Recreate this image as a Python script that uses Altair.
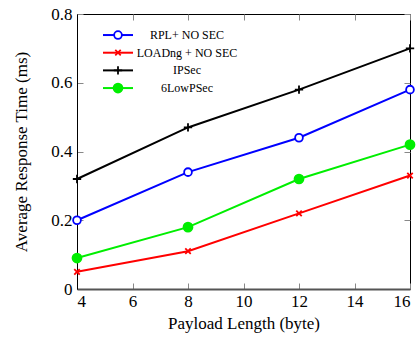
import altair as alt
import pandas as pd

payload = [4, 8, 12, 16]
rpl = [0.20, 0.34, 0.44, 0.58]
loadng = [0.05, 0.11, 0.22, 0.33]
ipsec = [0.32, 0.47, 0.58, 0.70]
lowpsec = [0.09, 0.18, 0.32, 0.42]

series_names = ["RPL+ NO SEC", "LOADng + NO SEC", "IPSec", "6LowPSec"]
series_colors = ["#0000ff", "#ff0000", "#000000", "#00ee00"]
series_fill = ["#ffffff", "transparent", "transparent", "#00ee00"]

x_ticks = [4, 6, 8, 10, 12, 14, 16]
y_ticks = [0, 0.2, 0.4, 0.6, 0.8]

rows = []
for name, vals in zip(series_names, [rpl, loadng, ipsec, lowpsec]):
    for x, v in zip(payload, vals):
        rows.append({"payload": x, "time": v, "series": name})
df = pd.DataFrame(rows)
legend_df = pd.DataFrame({"series": series_names})

W, H = 333, 275
TICK = 6
FONT = "Liberation Serif"

xscale = alt.Scale(domain=[4, 16], nice=False, zero=False)
yscale = alt.Scale(domain=[0, 0.8], nice=False)

# inward ticks on all four sides: grid lines dashed so only both ends show
x_enc = alt.X("payload:Q", scale=xscale,
              axis=alt.Axis(values=x_ticks, title="Payload Length (byte)", ticks=False,
                            domain=True, domainColor="#555555", domainWidth=2,
                            labelFont=FONT, titleFont=FONT, labelFontSize=17, titleFontSize=17,
                            labelPadding=4, titlePadding=6,
                            grid=True, gridColor="#888888", gridWidth=1, gridOpacity=1,
                            gridDash=[TICK, H - 2 * TICK, TICK]))
y_enc = alt.Y("time:Q", scale=yscale,
              axis=alt.Axis(values=y_ticks, title="Average Response Time (ms)", ticks=False,
                            domain=True, domainColor="#000000", domainWidth=1,
                            labelFont=FONT, titleFont=FONT, labelFontSize=17, titleFontSize=17,
                            format="~g", labelPadding=5, titlePadding=20,
                            grid=True, gridColor="#888888", gridWidth=1, gridOpacity=1,
                            gridDash=[TICK, W - 2 * TICK, TICK]))
x_plain = alt.X("payload:Q", scale=xscale)
y_plain = alt.Y("time:Q", scale=yscale)

stroke_scale = alt.Scale(domain=series_names, range=series_colors)
fill_scale = alt.Scale(domain=series_names, range=series_fill)
stroke_enc = alt.Stroke("series:N", scale=stroke_scale, legend=None)
fill_enc = alt.Fill("series:N", scale=fill_scale, legend=None)

lines = alt.Chart(df).mark_line(strokeWidth=2).encode(x=x_enc, y=y_enc, stroke=stroke_enc)

marker_styles = [
    ("circle", 60),
    ("M-1,-1L1,1M-1,1L1,-1", 30),
    ("M-1,0L1,0M0,-1L0,1", 70),
    ("circle", 80),
]


def marker_layers(data, x, y):
    out = []
    for name, (shape, size) in zip(series_names, marker_styles):
        out.append(
            alt.Chart(data).transform_filter(alt.datum.series == name)
            .mark_point(filled=False, strokeWidth=1.8, opacity=1, shape=shape, size=size)
            .encode(x=x, y=y, stroke=stroke_enc, fill=fill_enc)
        )
    return out


data_group = alt.layer(lines, *marker_layers(df, x_plain, y_plain))

# legend, drawn inside the plot at the top left (point scale, default padding 0.5)
leg_y = alt.Y("series:N", scale=alt.Scale(domain=series_names, range=[12.2, 82.9]),
              axis=None)
leg_lines = alt.Chart(legend_df).mark_rule(strokeWidth=2).encode(
    x=alt.value(26), x2=alt.value(56), y=leg_y, stroke=stroke_enc)
leg_text = alt.Chart(legend_df).mark_text(font=FONT, fontSize=12, align="center",
                                          baseline="middle", color="#000000").encode(
    x=alt.value(110), y=leg_y, text="series:N")
legend_group = alt.layer(leg_lines, *marker_layers(legend_df, alt.value(41), leg_y), leg_text)

chart = alt.layer(data_group, legend_group).resolve_scale(y="independent").properties(
    width=W, height=H,
    autosize=alt.AutoSizeParams(type="none"),
    padding={"left": 77, "top": 14, "right": 9, "bottom": 49},
).configure(
    font=FONT
).configure_view(
    stroke="#000000", strokeWidth=1
).configure_axis(
    labelColor="#000000", titleColor="#000000", titleFontWeight="normal",
)

chart.save("out.html", embed_options={"renderer": "svg", "actions": False})
